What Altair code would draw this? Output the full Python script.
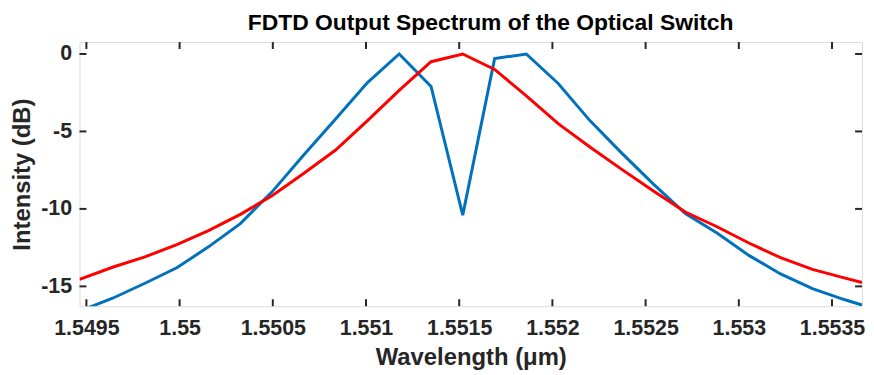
import altair as alt
import pandas as pd

# wavelengths (um)
wavelength = [1.549463, 1.549644, 1.549814, 1.549985, 1.550155, 1.550326, 1.550496,
              1.550667, 1.550837, 1.551008, 1.551178, 1.551349, 1.551519, 1.551690,
              1.551860, 1.552031, 1.552201, 1.552372, 1.552542, 1.552713, 1.552883,
              1.553054, 1.553224, 1.553395, 1.553565, 1.553661]
# blue trace (dB)
blue_db = [-16.6, -15.75, -14.8, -13.8, -12.45, -10.95, -8.9, -6.5, -4.2, -1.85, 0.0,
           -2.1, -10.4, -0.3, 0.0, -1.9, -4.3, -6.4, -8.4, -10.3, -11.55, -13.0,
           -14.2, -15.15, -15.85, -16.2]
# red trace (dB)
red_db = [-14.55, -13.75, -13.1, -12.3, -11.4, -10.35, -9.15, -7.7, -6.2, -4.3, -2.35,
          -0.5, 0.0, -1.0, -2.7, -4.5, -6.0, -7.45, -8.85, -10.2, -11.15, -12.2,
          -13.15, -13.9, -14.45, -14.75]

x_ticks = [1.5495, 1.55, 1.5505, 1.551, 1.5515, 1.552, 1.5525, 1.553, 1.5535]
y_ticks = [0, -5, -10, -15]
x_domain = [1.549463, 1.553661]
y_domain = [-16.28, 0.77]

W, H = 788, 266
FONT = "Liberation Sans"

rows = []
for w, b, r in zip(wavelength, blue_db, red_db):
    rows.append({"w": w, "v": b, "s": "blue"})
    rows.append({"w": w, "v": r, "s": "red"})
df = pd.DataFrame(rows)

xs = alt.Scale(domain=x_domain, nice=False, zero=False)
ys = alt.Scale(domain=y_domain, nice=False, zero=False)

lines = alt.Chart(df).mark_line(strokeWidth=3, clip=True).encode(
    x=alt.X("w:Q", scale=xs, title="Wavelength (μm)",
            axis=alt.Axis(values=x_ticks, labelExpr="'' + datum.value", ticks=False,
                          domain=False, grid=False, labelFont=FONT, labelFontSize=21.5,
                          labelFontWeight="bold", labelColor="#262626", labelPadding=11,
                          titleFont=FONT, titleFontSize=24, titleFontWeight="bold",
                          titleColor="#262626", titlePadding=7, labelFlush=False)),
    y=alt.Y("v:Q", scale=ys, title="Intensity (dB)",
            axis=alt.Axis(values=y_ticks, labelExpr="'' + datum.value", ticks=False,
                          domain=False, grid=False, labelFont=FONT, labelFontSize=21.5,
                          labelFontWeight="bold", labelColor="#262626", labelPadding=8,
                          titleFont=FONT, titleFontSize=24, titleFontWeight="bold",
                          titleColor="#262626", titlePadding=6, labelFlush=False)),
    color=alt.Color("s:N", scale=alt.Scale(domain=["blue", "red"],
                                           range=["#0072BD", "#FF0000"]), legend=None),
    order=alt.Order("w:Q"),
)

xt = pd.DataFrame({"t": x_ticks})
yt = pd.DataFrame({"t": y_ticks})
tc = "#262626"
bot = alt.Chart(xt).mark_rule(color=tc, strokeWidth=2).encode(
    x=alt.X("t:Q", scale=xs), y=alt.value(H), y2=alt.value(H - 7))
top = alt.Chart(xt).mark_rule(color=tc, strokeWidth=2).encode(
    x=alt.X("t:Q", scale=xs), y=alt.value(0), y2=alt.value(7))
left = alt.Chart(yt).mark_rule(color=tc, strokeWidth=2).encode(
    y=alt.Y("t:Q", scale=ys), x=alt.value(0), x2=alt.value(7))
right = alt.Chart(yt).mark_rule(color=tc, strokeWidth=2).encode(
    y=alt.Y("t:Q", scale=ys), x=alt.value(W), x2=alt.value(W - 7))

chart = alt.layer(lines, bot, top, left, right).properties(
    width=W, height=H,
    title=alt.Title("FDTD Output Spectrum of the Optical Switch", font=FONT,
                    fontSize=23, fontWeight="bold", color="#000000", offset=6,
                    anchor="middle", dx=20),
    autosize=alt.AutoSizeParams(type="none"),
    padding={"left": 72, "top": 33, "right": 4, "bottom": 68},
).configure_view(stroke="#262626", strokeWidth=2).configure(background="white")

chart.save("out.html", embed_options={"renderer": "svg", "actions": False})
